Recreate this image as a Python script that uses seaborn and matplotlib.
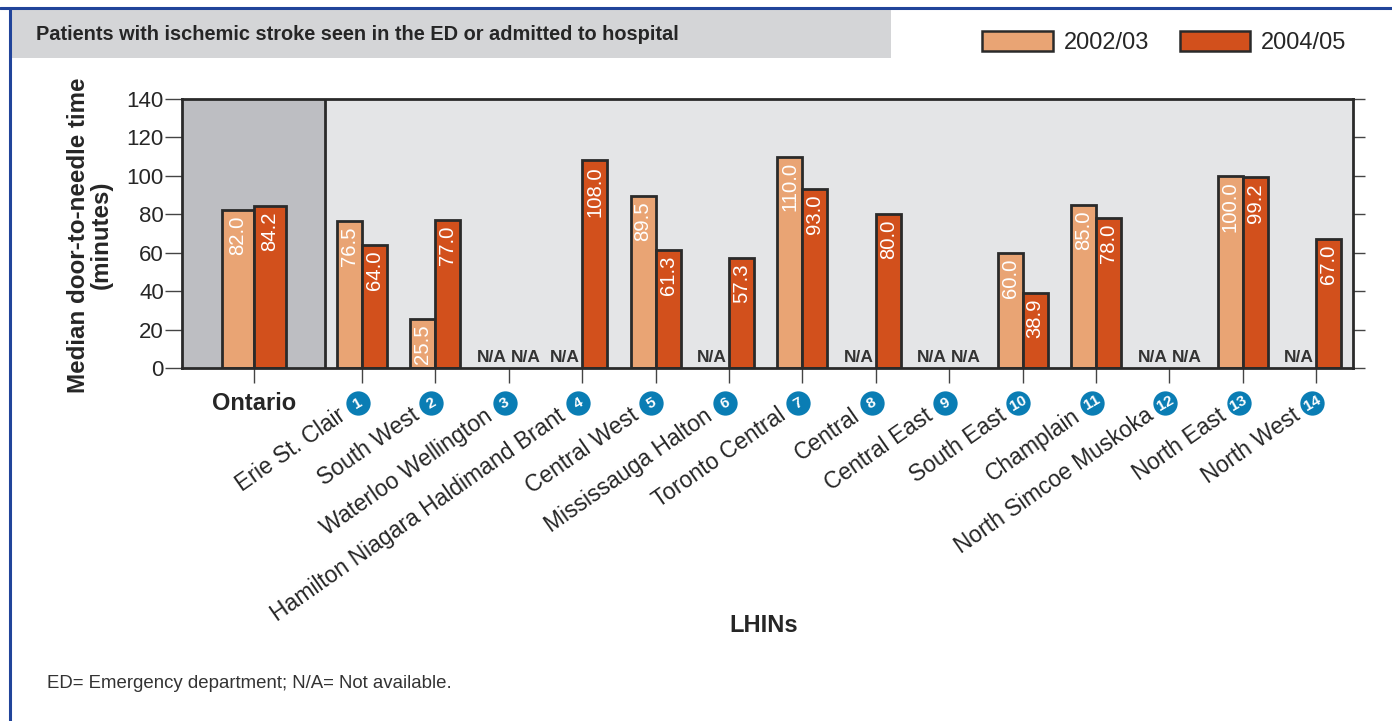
import numpy as np
import pandas as pd
import matplotlib
matplotlib.use("Agg")
import matplotlib.pyplot as plt
import matplotlib.transforms as mtransforms
from matplotlib.patches import Rectangle, Patch
from matplotlib.lines import Line2D
import seaborn as sns

# ---- data -------------------------------------------------------------
periods = ["2002/03", "2004/05"]
province = "Ontario"
province_2002 = 82.0
province_2004 = 84.2
lhin_names = [
    "Erie St. Clair", "South West", "Waterloo Wellington",
    "Hamilton Niagara Haldimand Brant", "Central West", "Mississauga Halton",
    "Toronto Central", "Central", "Central East", "South East", "Champlain",
    "North Simcoe Muskoka", "North East", "North West",
]
lhin_numbers = list(range(1, 15))
lhin_2002 = [76.5, 25.5, None, None, 89.5, None, 110.0, None, None,
             60.0, 85.0, None, 100.0, None]
lhin_2004 = [64.0, 77.0, None, 108.0, 61.3, 57.3, 93.0, 80.0, None,
             38.9, 78.0, None, 99.2, 67.0]
y_ticks = [0, 20, 40, 60, 80, 100, 120, 140]

title = "Patients with ischemic stroke seen in the ED or admitted to hospital"
footnote = "ED= Emergency department; N/A= Not available."

# ---- style ------------------------------------------------------------
sns.set_style("white")
plt.rcParams["font.family"] = ["Liberation Sans", "DejaVu Sans"]

light = "#E9A474"
dark = "#D2501C"
palette = {periods[0]: light, periods[1]: dark}
ink = "#262626"
edge = "#2a2a2a"
badge = "#0A7DB4"

W, H = 1392, 721
fig = plt.figure(figsize=(W / 100, H / 100), dpi=100)
fig.patch.set_facecolor("white")

# frame decoration: blue rules and grey title band
fig.add_artist(Line2D([0, 1], [1 - 8 / H, 1 - 8 / H], color="#21449A", lw=2.2,
                      transform=fig.transFigure))
fig.add_artist(Line2D([10 / W, 10 / W], [0, 1 - 8 / H], color="#21449A", lw=2.2,
                      transform=fig.transFigure))
fig.add_artist(Rectangle((12 / W, 1 - 58 / H), (891 - 12) / W, (58 - 10) / H,
                         transform=fig.transFigure, facecolor="#D4D5D7",
                         edgecolor="none", zorder=0))
fig.text(36 / W, 1 - 34 / H, title, fontsize=14.4, fontweight="bold", color=ink,
         ha="left", va="center")

ax = fig.add_axes([182 / W, 1 - 368 / H, (1353 - 182) / W, (368 - 99) / H])

x_left, x_right = -1.45, 14.5
prov_pos = -0.475

prov_df = pd.DataFrame({
    "pos": [prov_pos, prov_pos],
    "period": periods,
    "minutes": [province_2002, province_2004],
})
lhin_df = pd.DataFrame({
    "pos": lhin_numbers * 2,
    "period": [periods[0]] * 14 + [periods[1]] * 14,
    "minutes": [np.nan if v is None else v for v in lhin_2002 + lhin_2004],
}).dropna()

ax.set_facecolor("#E4E5E7")
ax.axvspan(x_left, 0.5, color="#BDBEC2", zorder=0)
ax.axvline(0.5, color=edge, lw=2, zorder=3)

bar_kw = dict(x="pos", y="minutes", hue="period", hue_order=periods,
              palette=palette, native_scale=True, errorbar=None, legend=False,
              edgecolor=edge, linewidth=2, saturation=1, ax=ax)
prov_width = 0.87
lhin_width = 0.68
sns.barplot(data=prov_df, width=prov_width, **bar_kw)
sns.barplot(data=lhin_df, width=lhin_width, **bar_kw)

ax.set_xlim(x_left, x_right)
ax.set_ylim(0, 140)
ax.set_yticks(y_ticks)
ax.set_yticklabels([str(t) for t in y_ticks], fontsize=16, color=ink)
ax.set_xticks([prov_pos] + lhin_numbers)
ax.set_xticklabels([])
ax.set_xlabel("")
ax.set_ylabel("")
for s in ax.spines.values():
    s.set_visible(True)
    s.set_linewidth(2)
    s.set_color(edge)
ax.tick_params(axis="y", left=True, right=True, direction="out", length=12,
               width=1, color="#444444", pad=1)
ax.tick_params(axis="x", bottom=True, direction="out", length=11, width=1,
               color="#444444")
for t in ax.yaxis.get_major_ticks():
    t.tick2line.set_markersize(8.5)


def value_labels(pos, vals, width):
    for k, v in enumerate(vals):
        off = (-1 if k == 0 else 1) * width / 4
        if v is None:
            # "N/A" sits on the baseline, just left / right of the category tick
            ax.annotate("N/A", xy=(pos, 0), xytext=(-1.5 if k == 0 else 1.5, 2.5),
                        textcoords="offset points",
                        ha="right" if k == 0 else "left", va="bottom",
                        fontsize=12.5, fontweight="bold", color="#333333",
                        annotation_clip=False)
        else:
            ax.annotate(f"{v:.1f}", xy=(pos + off, v), xytext=(0, -4),
                        textcoords="offset points", rotation=90,
                        rotation_mode="anchor", ha="right", va="center",
                        fontsize=14.6, color="white", zorder=5)


value_labels(prov_pos, [province_2002, province_2004], prov_width)
for i, n in enumerate(lhin_numbers):
    value_labels(n, [lhin_2002[i], lhin_2004[i]], lhin_width)

# category labels with numbered badges
label_y = 1 - 403 / H
blend = mtransforms.blended_transform_factory(ax.transData, fig.transFigure)
ax.text(prov_pos, label_y, province, transform=blend, ha="center", va="center",
        fontsize=17, fontweight="bold", color=ink)
badge_shift = mtransforms.ScaledTranslation(-3 / 72, 0, fig.dpi_scale_trans)
text_shift = mtransforms.ScaledTranslation(-13.5 / 72, -7.5 / 72, fig.dpi_scale_trans)
for n, name in zip(lhin_numbers, lhin_names):
    ax.plot([n], [label_y], "o", ms=17.5, color=badge, mec="none",
            transform=blend + badge_shift, clip_on=False)
    ax.text(n, label_y, str(n), transform=blend + badge_shift, ha="center",
            va="center", fontsize=11, fontweight="bold", color="white",
            rotation=30, rotation_mode="anchor")
    ax.text(n, label_y, name, transform=blend + text_shift, ha="right",
            va="center", rotation=35, rotation_mode="anchor", fontsize=16.5,
            color=ink)

fig.text(90 / W, 1 - 235 / H, "Median door-to-needle time\n(minutes)",
         rotation=90, ha="center", va="center", multialignment="center",
         fontsize=17.4, fontweight="bold", color=ink, linespacing=1.02)
fig.text(764 / W, 1 - 625 / H, "LHINs", ha="center", va="center", fontsize=17,
         fontweight="bold", color=ink)
fig.text(47 / W, 1 - 683 / H, footnote, ha="left", va="center", fontsize=13.4,
         color="#333333")

handles = [Patch(facecolor=palette[p], edgecolor=edge, linewidth=1.8)
           for p in periods]
fig.legend(handles, periods, loc="upper left", bbox_to_anchor=(982 / W, 1 - 31 / H),
           ncol=2, frameon=False, fontsize=17, handlelength=3.0,
           handleheight=0.95, handletextpad=0.45, columnspacing=1.3,
           borderpad=0, borderaxespad=0, labelcolor=ink)

fig.savefig("out.png", dpi=100)
